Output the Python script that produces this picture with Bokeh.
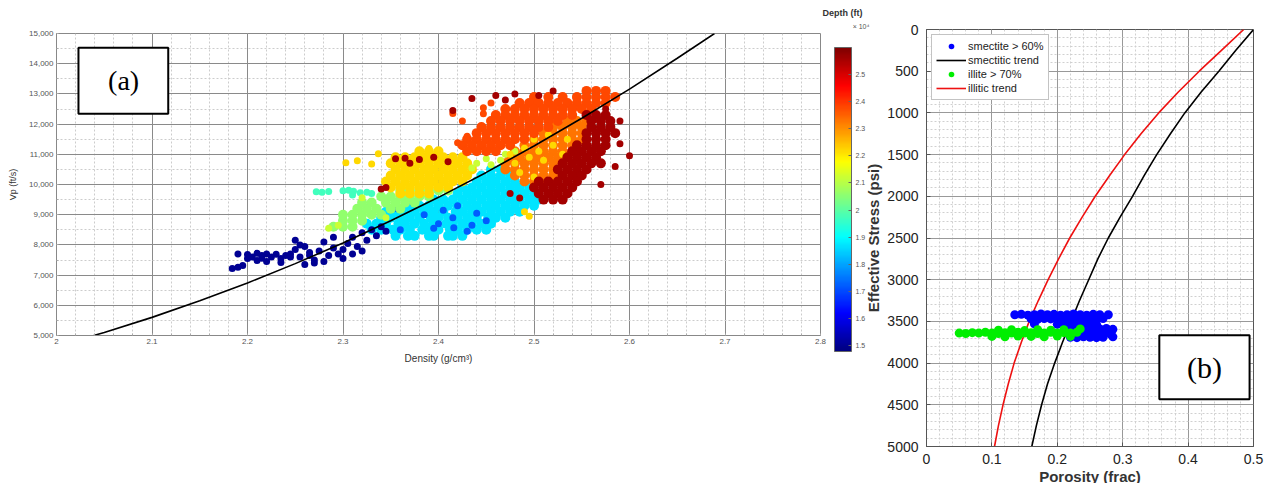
import numpy as np
from bokeh.plotting import figure
from bokeh.models import (ColumnDataSource, LinearColorMapper, ColorBar, FixedTicker, Range1d,
                          NumeralTickFormatter, BoxAnnotation, Label, Title)
from bokeh.layouts import row
from bokeh.embed import file_html
from bokeh.resources import INLINE

# ================= Panel (a): Vp vs density, coloured by depth (x10^4 ft) =================
# each cloud is kept as rows: one Vp value per row and the densities read along that row
cyan_row_vp = [8300, 8500, 8700, 8900, 9100, 9300, 9500, 9700, 9900, 10100, 10300, 10500]
cyan_row_rho = [
    [2.355, 2.368, 2.375, 2.39, 2.395, 2.41, 2.415, 2.425],
    [2.33, 2.34, 2.352, 2.36, 2.37, 2.383, 2.39, 2.40, 2.412, 2.42, 2.43, 2.44, 2.45],
    [2.325, 2.335, 2.345, 2.358, 2.365, 2.375, 2.385, 2.395, 2.408, 2.415, 2.425, 2.435, 2.445, 2.455],
    [2.34, 2.35, 2.36, 2.37, 2.38, 2.392, 2.40, 2.41, 2.42, 2.43, 2.44, 2.452, 2.46, 2.47],
    [2.345, 2.355, 2.365, 2.375, 2.385, 2.395, 2.405, 2.418, 2.425, 2.435, 2.445, 2.455, 2.465, 2.475, 2.485],
    [2.37, 2.38, 2.39, 2.40, 2.41, 2.42, 2.43, 2.44, 2.45, 2.46, 2.47, 2.48, 2.49, 2.50],
    [2.395, 2.405, 2.415, 2.425, 2.435, 2.445, 2.455, 2.465, 2.475, 2.485, 2.495, 2.505],
    [2.42, 2.43, 2.44, 2.45, 2.46, 2.47, 2.48, 2.49, 2.50],
    [2.425, 2.435, 2.445, 2.455, 2.465, 2.475, 2.485, 2.495],
    [2.44, 2.45, 2.46, 2.47, 2.48],
    [2.445, 2.455, 2.465, 2.475],
    [2.455, 2.465],
]

green_row_vp = [8600, 8800, 9000, 9200, 9400, 9600, 9800]
green_row_rho = [
    [2.29, 2.30, 2.31],
    [2.30, 2.31, 2.32],
    [2.30, 2.31, 2.32, 2.33, 2.34],
    [2.315, 2.325, 2.335, 2.35, 2.36],
    [2.32, 2.33, 2.345, 2.355, 2.365, 2.375],
    [2.34, 2.35, 2.36, 2.37, 2.38, 2.39],
    [2.36, 2.37, 2.38, 2.39, 2.40, 2.41],
]

yellow_row_vp = [11100, 10900, 10700, 10500, 10300, 10100, 9900, 9700]
yellow_row_rho = [
    [2.38, 2.39, 2.40],
    [2.355, 2.365, 2.375, 2.385, 2.395, 2.405, 2.415, 2.425],
    [2.35, 2.36, 2.37, 2.38, 2.39, 2.40, 2.41, 2.42, 2.43],
    [2.355, 2.365, 2.375, 2.385, 2.395, 2.405, 2.415, 2.425, 2.435],
    [2.35, 2.36, 2.37, 2.38, 2.39, 2.40, 2.41, 2.42, 2.43],
    [2.345, 2.355, 2.365, 2.375, 2.385, 2.395, 2.405, 2.415, 2.425],
    [2.35, 2.36, 2.37, 2.38, 2.39, 2.40, 2.41],
    [2.36, 2.37, 2.38, 2.39],
]

orange_row_vp = [12100, 11900, 11700, 11500, 11300, 11100, 10900, 10700, 10500, 10300, 10100]
orange_row_rho = [
    [2.535, 2.545, 2.555],
    [2.52, 2.53, 2.54, 2.55],
    [2.51, 2.52, 2.53, 2.54, 2.55],
    [2.50, 2.51, 2.52, 2.53, 2.54, 2.55],
    [2.49, 2.50, 2.51, 2.52, 2.53, 2.54],
    [2.48, 2.49, 2.50, 2.51, 2.52, 2.53, 2.54],
    [2.475, 2.485, 2.495, 2.505, 2.515, 2.525, 2.535],
    [2.47, 2.48, 2.49, 2.50, 2.51, 2.52, 2.53],
    [2.47, 2.48, 2.49, 2.50, 2.51, 2.52],
    [2.48, 2.49, 2.50, 2.51, 2.52, 2.53],
    [2.49, 2.50, 2.51, 2.52],
]

red_row_vp = [13100, 12900, 12700, 12500, 12300, 12100, 11900, 11700, 11500, 11300, 11100]
red_row_rho = [
    [2.555, 2.565, 2.575],
    [2.50, 2.515, 2.53, 2.545, 2.555, 2.565, 2.575, 2.585],
    [2.485, 2.495, 2.505, 2.515, 2.525, 2.535, 2.545, 2.555, 2.565, 2.575],
    [2.47, 2.48, 2.49, 2.50, 2.51, 2.52, 2.53, 2.54, 2.55, 2.56],
    [2.46, 2.47, 2.48, 2.49, 2.50, 2.51, 2.52, 2.53, 2.54],
    [2.455, 2.465, 2.475, 2.485, 2.495, 2.505, 2.515, 2.525],
    [2.445, 2.455, 2.465, 2.475, 2.485, 2.495, 2.505, 2.515],
    [2.44, 2.45, 2.46, 2.47, 2.48, 2.49, 2.50],
    [2.43, 2.44, 2.45, 2.46, 2.47, 2.48, 2.49],
    [2.425, 2.435, 2.445, 2.455, 2.465, 2.475],
    [2.43, 2.44, 2.45, 2.46],
]

dkred_row_vp = [12300, 12100, 11900, 11700, 11500, 11300, 11100, 10900, 10700, 10500, 10300, 10100, 9900, 9700, 9500]
dkred_row_rho = [
    [2.555, 2.565, 2.575],
    [2.56, 2.57, 2.58],
    [2.56, 2.57, 2.58],
    [2.555, 2.565, 2.575, 2.585],
    [2.555, 2.565, 2.575],
    [2.545, 2.555, 2.565, 2.575],
    [2.54, 2.55, 2.56, 2.57],
    [2.535, 2.545, 2.555, 2.565],
    [2.53, 2.54, 2.55, 2.56, 2.57],
    [2.525, 2.535, 2.545, 2.555],
    [2.53, 2.54, 2.55],
    [2.505, 2.515, 2.525, 2.535, 2.545],
    [2.50, 2.51, 2.52, 2.53, 2.54],
    [2.505, 2.515, 2.525, 2.535],
    [2.51, 2.52, 2.53],
]

# scattered points read individually
dkblue_rho = [2.184, 2.19, 2.195, 2.19, 2.20, 2.21, 2.215, 2.22, 2.225, 2.23, 2.235, 2.24, 2.21, 2.22, 2.235,
              2.245, 2.25, 2.255, 2.26, 2.265, 2.27, 2.275, 2.28, 2.285, 2.29, 2.27, 2.28, 2.295, 2.30, 2.305,
              2.31, 2.315, 2.32, 2.325, 2.33, 2.335, 2.31, 2.255, 2.26, 2.20, 2.345, 2.34, 2.25, 2.29, 2.205,
              2.215, 2.245, 2.265, 2.30, 2.32]
dkblue_vp = [7220, 7260, 7320, 7700, 7680, 7720, 7650, 7700, 7600, 7690, 7550, 7650, 7480, 7450, 7420,
             7700, 7850, 7600, 7950, 7750, 7500, 7800, 8100, 7650, 7900, 7400, 7450, 7700, 7850, 8050,
             8250, 7950, 8400, 8150, 8500, 8300, 7700, 8000, 7350, 7550, 8450, 8600, 8150, 8250, 7600,
             7560, 7600, 7650, 7550, 7800]
medblue_rho = [2.357, 2.40, 2.415, 2.43, 2.44, 2.395, 2.45, 2.36, 2.42, 2.374, 2.385, 2.405, 2.416, 2.435]
medblue_vp = [9200, 8700, 8900, 8450, 9050, 8550, 8800, 8500, 9300, 9370, 9000, 9150, 8570, 8650]
teal_rho = [2.272, 2.278, 2.285, 2.30, 2.306, 2.311, 2.318, 2.325, 2.31, 2.33]
teal_vp = [9760, 9740, 9770, 9790, 9810, 9780, 9730, 9740, 9650, 9700]
lime_rho = [2.435, 2.44, 2.45, 2.455, 2.465, 2.47, 2.48, 2.295, 2.285, 2.32, 2.345]
lime_vp = [10550, 10700, 10850, 10650, 10800, 11000, 11100, 8650, 8550, 9560, 8900]
yellow_pt_rho = [2.303, 2.315, 2.337, 2.39, 2.475, 2.49, 2.50, 2.505, 2.515, 2.52, 2.53, 2.535, 2.51,
                 2.525, 2.48, 2.495, 2.49, 2.495, 2.33, 2.485, 2.50]
yellow_pt_vp = [10720, 10790, 11020, 11190, 11000, 11200, 11500, 11100, 11650, 11300, 11000, 11500, 10800,
                10500, 10700, 10900, 9100, 8950, 10680, 10400, 10250]
red_pt_rho = [2.447, 2.447, 2.455, 2.42, 2.415, 2.425, 2.43]
red_pt_vp = [12540, 12340, 12700, 11380, 12350, 12100, 11600]
dkred_pt_rho = [2.60, 2.59, 2.585, 2.57, 2.575, 2.59, 2.355, 2.365, 2.38, 2.395, 2.41, 2.345, 2.34, 2.37,
                2.435, 2.46, 2.48, 2.505, 2.52, 2.47, 2.415, 2.475, 2.485]
dkred_pt_vp = [10950, 11350, 10600, 10000, 12500, 12100, 10850, 10870, 10830, 10900, 10750, 9900, 9850, 10700,
               12850, 12950, 13000, 12950, 13100, 12800, 12450, 9700, 9550]

# depth (x10^4 ft) of each group
depth_cyan, depth_medblue, depth_teal, depth_green, depth_lime = 1.87, 1.72, 1.97, 2.06, 2.12
depth_yellow, depth_orange, depth_red, depth_dkred, depth_dkblue = 2.22, 2.33, 2.38, 2.56, 1.50

# trend line (a)
trend_rho = [2.039, 2.05, 2.10, 2.15, 2.20, 2.25, 2.30, 2.35, 2.40, 2.45, 2.50, 2.55, 2.60, 2.65, 2.689]
trend_vp = [5000, 5100, 5600, 6150, 6740, 7380, 8060, 8800, 9575, 10400, 11275, 12195, 13160, 14180, 15000]

y_ticks_a = [5000, 6000, 7000, 8000, 9000, 10000, 11000, 12000, 13000, 14000, 15000]
x_ticks_a = [2.0, 2.1, 2.2, 2.3, 2.4, 2.5, 2.6, 2.7, 2.8]
x_labels_a = ["2", "2.1", "2.2", "2.3", "2.4", "2.5", "2.6", "2.7", "2.8"]
cbar_ticks = [1.5, 1.6, 1.7, 1.8, 1.9, 2.0, 2.1, 2.2, 2.3, 2.4, 2.5]
cbar_labels = ["1.5", "1.6", "1.7", "1.8", "1.9", "2", "2.1", "2.2", "2.3", "2.4", "2.5"]

# ================= Panel (b): effective stress vs porosity =================
smec_por = [0.135, 0.145, 0.155, 0.165, 0.175, 0.185, 0.195, 0.205, 0.215, 0.225, 0.235, 0.245, 0.255, 0.265, 0.278,
            0.16, 0.17, 0.18, 0.19, 0.20, 0.21, 0.22, 0.23, 0.24, 0.25, 0.26, 0.27,
            0.165, 0.20, 0.21, 0.22, 0.23, 0.24, 0.25, 0.26,
            0.215, 0.225, 0.235, 0.245, 0.255, 0.265, 0.275, 0.285,
            0.225, 0.235, 0.245, 0.255, 0.265, 0.272, 0.282,
            0.22, 0.23, 0.24, 0.25, 0.26, 0.27, 0.285]
smec_stress = [3420, 3415, 3425, 3420, 3410, 3420, 3415, 3425, 3420, 3410, 3420, 3425, 3415, 3420, 3420,
               3470, 3475, 3465, 3470, 3480, 3470, 3465, 3475, 3470, 3480, 3470, 3465,
               3530, 3535, 3525, 3530, 3540, 3530, 3525, 3535,
               3590, 3595, 3585, 3590, 3600, 3590, 3585, 3595,
               3650, 3645, 3655, 3650, 3645, 3650, 3655,
               3690, 3695, 3685, 3690, 3695, 3690, 3685]
ill_por = [0.05, 0.06, 0.07, 0.08, 0.09, 0.10, 0.11, 0.12, 0.13, 0.14, 0.15, 0.16, 0.17, 0.18, 0.19, 0.20, 0.21, 0.22, 0.23,
           0.11, 0.13, 0.15, 0.17, 0.19, 0.21, 0.235,
           0.10, 0.12, 0.14, 0.16, 0.18, 0.20, 0.22]
ill_stress = [3640, 3645, 3635, 3640, 3630, 3640, 3645, 3635, 3640, 3630, 3640, 3635, 3645, 3640, 3630, 3640, 3635, 3640, 3630,
              3605, 3600, 3610, 3600, 3605, 3600, 3590,
              3680, 3685, 3675, 3680, 3685, 3675, 3680]

stress_curve = [0, 250, 500, 750, 1000, 1250, 1500, 1750, 2000, 2250, 2500, 2750, 3000, 3250, 3500,
                3750, 4000, 4250, 4500, 4750, 5000]
smec_trend = [0.500, 0.473, 0.447, 0.420, 0.395, 0.373, 0.352, 0.333, 0.315, 0.296, 0.278, 0.262, 0.248,
              0.234, 0.221, 0.208, 0.196, 0.185, 0.176, 0.168, 0.161]
ill_trend = [0.485, 0.451, 0.417, 0.385, 0.355, 0.328, 0.303, 0.280, 0.258, 0.238, 0.219, 0.202, 0.186,
             0.171, 0.157, 0.145, 0.134, 0.125, 0.117, 0.110, 0.104]


# ================= styling helpers =================
def jet(t):
    r = np.clip(1.5 - abs(4 * t - 3), 0, 1)
    g = np.clip(1.5 - abs(4 * t - 2), 0, 1)
    b = np.clip(1.5 - abs(4 * t - 1), 0, 1)
    return "#%02x%02x%02x" % (int(r * 255), int(g * 255), int(b * 255))


jet_pal = [jet(t) for t in np.linspace(0, 1, 256)]
mapper = LinearColorMapper(palette=jet_pal, low=1.478, high=2.60)


def flatten(row_vp, row_rho):
    xs, ys = [], []
    for v, rs in zip(row_vp, row_rho):
        xs += rs
        ys += [v] * len(rs)
    return xs, ys


CLOUD, DOT = 10, 7
groups = [
    (flatten(cyan_row_vp, cyan_row_rho), depth_cyan, CLOUD),
    ((medblue_rho, medblue_vp), depth_medblue, DOT),
    ((teal_rho, teal_vp), depth_teal, DOT),
    (flatten(green_row_vp, green_row_rho), depth_green, CLOUD),
    (flatten(yellow_row_vp, yellow_row_rho), depth_yellow, CLOUD),
    (flatten(orange_row_vp, orange_row_rho), depth_orange, CLOUD),
    ((lime_rho, lime_vp), depth_lime, DOT),
    ((yellow_pt_rho, yellow_pt_vp), depth_yellow, DOT),
    (flatten(red_row_vp, red_row_rho), depth_red, CLOUD),
    ((red_pt_rho, red_pt_vp), depth_red, DOT),
    (flatten(dkred_row_vp, dkred_row_rho), depth_dkred, CLOUD),
    ((dkred_pt_rho, dkred_pt_vp), depth_dkred, DOT),
    ((dkblue_rho, dkblue_vp), depth_dkblue, DOT),
]
rho_all, vp_all, dep_all, size_all = [], [], [], []
for (r, v), d, s in groups:
    rho_all += list(r)
    vp_all += list(v)
    dep_all += [d] * len(r)
    size_all += [s] * len(r)
src_a = ColumnDataSource(dict(rho=rho_all, vp=vp_all, depth=dep_all, size=size_all))

GRAY_TXT = "#555555"

p1 = figure(frame_width=764, frame_height=302, x_range=Range1d(2, 2.8), y_range=Range1d(5000, 15000),
            output_backend="svg", toolbar_location=None, min_border_left=56, min_border_top=33,
            min_border_bottom=150, min_border_right=0, background_fill_color="white",
            title="Depth (ft)")
p1.title.align = "right"
p1.title.offset = -42
p1.title.text_font = "Liberation Sans"
p1.title.text_font_size = "9px"
p1.title.text_font_style = "bold"
p1.title.text_color = "#333333"
p1.title.standoff = 0
p1.add_layout(Title(text="× 10⁴", align="right", offset=-49, text_font="Liberation Sans",
                    text_font_size="7px", text_font_style="normal", text_color=GRAY_TXT, standoff=7), "above")

p1.scatter("rho", "vp", source=src_a, size="size", line_color=None,
           fill_color={"field": "depth", "transform": mapper})
p1.line(trend_rho, trend_vp, line_color="black", line_width=1.6)

p1.xaxis.ticker = FixedTicker(ticks=x_ticks_a, minor_ticks=[2 + 0.02 * i for i in range(41)])
p1.xaxis.major_label_overrides = {t: l for t, l in zip(x_ticks_a, x_labels_a)}
p1.yaxis.ticker = FixedTicker(ticks=y_ticks_a, minor_ticks=[5000 + 500 * i for i in range(21)])
p1.yaxis.formatter = NumeralTickFormatter(format="0,0")
for ax in (p1.xaxis, p1.yaxis):
    ax.major_label_text_font_size = "8px"
    ax.major_label_text_color = GRAY_TXT
    ax.major_label_text_font = "Liberation Sans"
    ax.axis_line_color = "#888888"
    ax.major_tick_line_color = "#888888"
    ax.major_tick_in = 4
    ax.major_tick_out = 0
    ax.minor_tick_line_color = "#aaaaaa"
    ax.minor_tick_in = 2
    ax.minor_tick_out = 0
    ax.axis_label_text_font = "Liberation Sans"
    ax.axis_label_text_font_style = "normal"
    ax.axis_label_text_color = "#333333"
    ax.major_label_standoff = 3
p1.xaxis.axis_label = "Density (g/cm³)"
p1.xaxis.axis_label_text_font_size = "10px"
p1.xaxis.axis_label_standoff = 6
p1.yaxis.axis_label = "Vp (ft/s)"
p1.yaxis.axis_label_text_font_size = "9px"
p1.yaxis.axis_label_standoff = 8
p1.grid.grid_line_color = "#8a8a8a"
p1.grid.grid_line_width = 1
p1.grid.minor_grid_line_color = "#cccccc"
p1.grid.minor_grid_line_dash = "2 2"
p1.outline_line_color = "#888888"

cbar = ColorBar(color_mapper=mapper, ticker=FixedTicker(ticks=cbar_ticks),
                major_label_overrides={t: l for t, l in zip(cbar_ticks, cbar_labels)},
                width=17, height=304, margin=0, padding=14, label_standoff=4,
                major_label_text_font_size="7px", major_label_text_color=GRAY_TXT,
                major_label_text_font="Liberation Sans",
                major_tick_line_color="#666666", major_tick_in=3, major_tick_out=0,
                bar_line_color="#666666", border_line_color=None, background_fill_alpha=0)
p1.add_layout(cbar, "right")

p1.add_layout(BoxAnnotation(left=2.023, right=2.117, top=14527, bottom=12344, fill_color="white",
                            fill_alpha=1, line_color="black", line_alpha=1, line_width=2, level="annotation"))
p1.add_layout(Label(x=2.0703, y=13435, text="(a)", text_font="Liberation Serif", text_font_size="28px",
                    text_color="black", text_align="center", text_baseline="middle"))

# ================= figure (b) =================
p2 = figure(frame_width=327, frame_height=417, x_range=Range1d(0, 0.5), y_range=Range1d(5000, 0),
            output_backend="svg", toolbar_location=None, title_location=None, min_border_left=55,
            min_border_top=29, min_border_right=13, min_border_bottom=30, border_fill_alpha=0)
p2.margin = (-4, 0, 0, -20)
p2.line(smec_trend, stress_curve, line_color="black", line_width=1.6, legend_label="smectitic trend")
p2.line(ill_trend, stress_curve, line_color="#ee1111", line_width=1.6, legend_label="illitic trend")
p2.scatter(smec_por, smec_stress, size=9, fill_color="#0000ff", line_color=None, legend_label="smectite > 60%")
p2.scatter(ill_por, ill_stress, size=9, fill_color="#00ee00", line_color=None, legend_label="illite > 70%")

p2.xaxis.ticker = FixedTicker(ticks=[0, 0.1, 0.2, 0.3, 0.4, 0.5], minor_ticks=[0.02 * i for i in range(26)])
p2.xaxis.major_label_overrides = {0: "0", 0.1: "0.1", 0.2: "0.2", 0.3: "0.3", 0.4: "0.4", 0.5: "0.5"}
p2.yaxis.ticker = FixedTicker(ticks=[500 * i for i in range(11)], minor_ticks=[100 * i for i in range(51)])
for ax in (p2.xaxis, p2.yaxis):
    ax.major_label_text_font_size = "14px"
    ax.major_label_text_color = "#222222"
    ax.major_label_text_font = "Liberation Sans"
    ax.axis_line_color = "#555555"
    ax.major_tick_line_color = "#555555"
    ax.major_tick_in = 4
    ax.major_tick_out = 0
    ax.minor_tick_line_color = None
    ax.axis_label_text_font = "Liberation Sans"
    ax.axis_label_text_font_style = "bold"
    ax.axis_label_text_font_size = "15px"
    ax.axis_label_text_color = "#333333"
    ax.major_label_standoff = 4
p2.xaxis.axis_label = "Porosity (frac)"
p2.xaxis.major_label_standoff = 3
p2.xaxis.axis_label_standoff = 1
p2.yaxis.axis_label = "Effective Stress (psi)"
p2.yaxis.axis_label_standoff = 2
p2.grid.grid_line_color = "#999999"
p2.grid.minor_grid_line_color = "#d0d0d0"
p2.grid.minor_grid_line_dash = "2 2"
p2.outline_line_color = "#555555"

leg = p2.legend[0]
order = ["smectite > 60%", "smectitic trend", "illite > 70%", "illitic trend"]
leg.items = sorted(leg.items, key=lambda it: order.index(it.label.value))
leg.location = "top_left"
leg.margin = 5
leg.padding = 4
leg.spacing = 0
leg.label_height = 14
leg.glyph_height = 14
leg.glyph_width = 30
leg.label_standoff = 2
leg.label_text_font = "Liberation Sans"
leg.label_text_font_size = "11px"
leg.label_text_color = "#222222"
leg.border_line_color = "#888888"
leg.background_fill_alpha = 1

p2.add_layout(BoxAnnotation(left=0.356, right=0.494, top=3665, bottom=4433, fill_color="white",
                            fill_alpha=1, line_color="black", line_alpha=1, line_width=2, level="annotation"))
p2.add_layout(Label(x=0.425, y=4049, text="(b)", text_font="Liberation Serif", text_font_size="30px",
                    text_color="black", text_align="center", text_baseline="middle"))

layout = row(p1, p2, spacing=0)
open("out.html", "w").write(file_html(layout, INLINE))
